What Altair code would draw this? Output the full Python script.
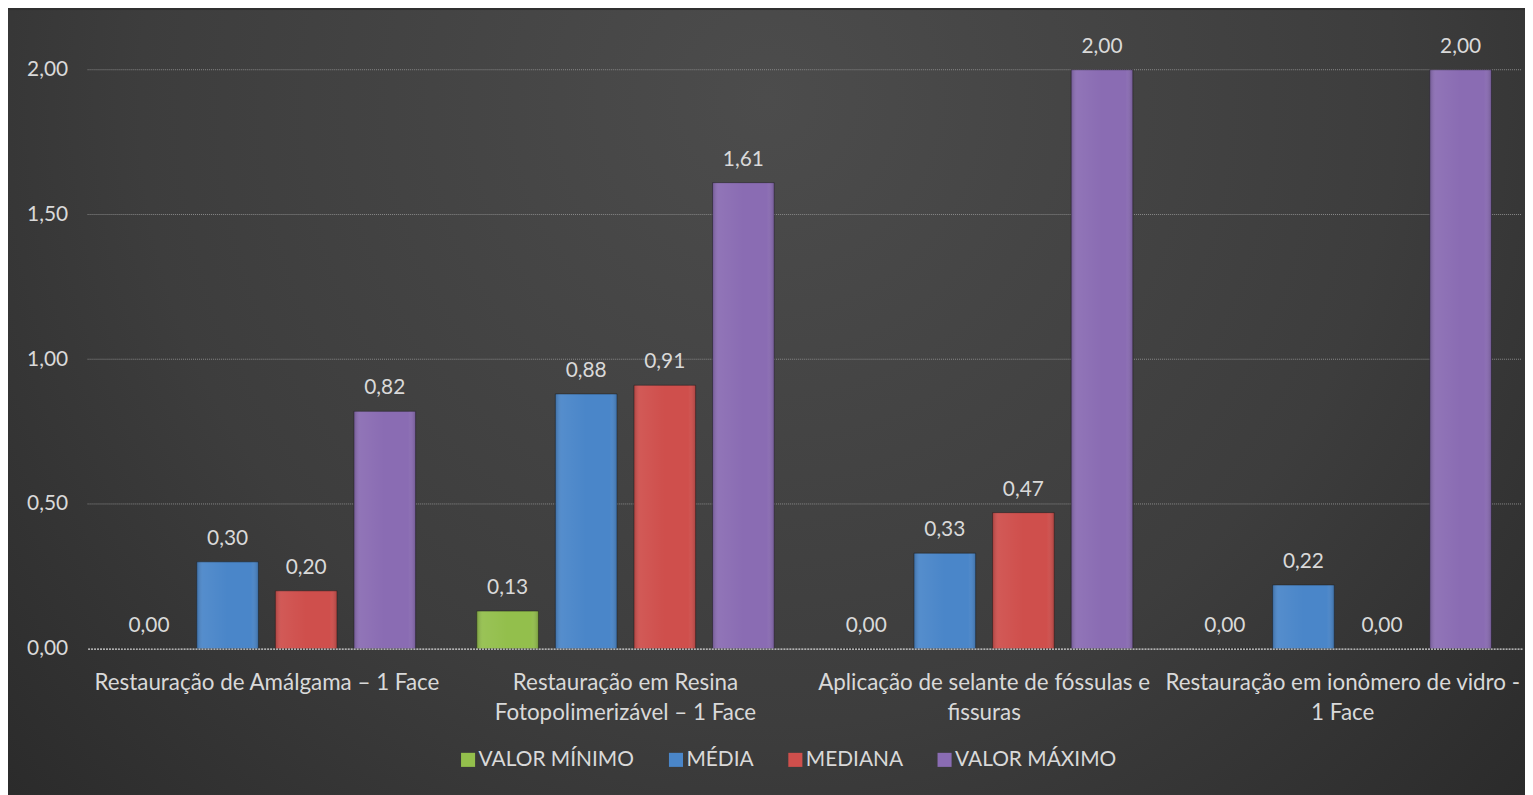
import altair as alt
import pandas as pd

categories = [
    "Restauração de Amálgama – 1 Face",
    "Restauração em Resina|Fotopolimerizável – 1 Face",
    "Aplicação de selante de fóssulas e|fissuras",
    "Restauração em ionômero de vidro -|1 Face",
]
series = ["VALOR MÍNIMO", "MÉDIA", "MEDIANA", "VALOR MÁXIMO"]
valor_minimo = [0.00, 0.13, 0.00, 0.00]
media = [0.30, 0.88, 0.33, 0.22]
mediana = [0.20, 0.91, 0.47, 0.00]
valor_maximo = [0.82, 1.61, 2.00, 2.00]
y_ticks = [0.0, 0.5, 1.0, 1.5, 2.0]
colors = ["#93bf4c", "#4a86c9", "#cf4f4c", "#8a6cb3"]

rows = []
for s, vals in zip(series, [valor_minimo, media, mediana, valor_maximo]):
    for c, v in zip(categories, vals):
        rows.append({"categoria": c, "serie": s, "valor": v})
df = pd.DataFrame(rows)
grid_df = pd.DataFrame({"v": y_ticks[1:]})

FONT = "Lato"
TXT = "#d9d9d9"
FS = 21
W, H = 1442, 582

bg = alt.Chart(pd.DataFrame({"a": [0]})).mark_rect(
    fill=alt.RadialGradient(
        gradient="radial",
        x1=0.5, y1=0.3, x2=0.5, y2=0.3, r1=0.0, r2=0.75,
        stops=[
            alt.GradientStop(color="#4c4c4c", offset=0),
            alt.GradientStop(color="#3d3d3d", offset=0.55),
            alt.GradientStop(color="#262626", offset=1),
        ],
    )
).encode(
    x=alt.value(-80), x2=alt.value(W + 5), y=alt.value(-60), y2=alt.value(H + 147)
)

y_scale = alt.Scale(domain=[0, 2], nice=False)

grid = alt.Chart(grid_df).mark_rule(
    color="#8a8a8a", strokeWidth=1, strokeDash=[1, 1]
).encode(
    y=alt.Y("v:Q", scale=y_scale),
    x=alt.value(0),
    x2=alt.value(W),
)

x_enc = alt.X(
    "categoria:N",
    sort=categories,
    title=None,
    scale=alt.Scale(paddingInner=0, paddingOuter=0),
    axis=alt.Axis(
        labelExpr="split(datum.label, '|')",
        labelAngle=0,
        labelFont=FONT,
        labelFontSize=22.5,
        labelColor=TXT,
        labelPadding=23,
        labelLineHeight=30,
        labelLimit=400,
        ticks=False,
        domainColor="#d9d9d9",
        domainDash=[2, 1],
        domainWidth=1.2,
        grid=False,
        zindex=2,
    ),
)
xoff = alt.XOffset(
    "serie:N", sort=series, scale=alt.Scale(paddingInner=0.215, paddingOuter=0.389)
)
y_enc = alt.Y(
    "valor:Q",
    title=None,
    scale=y_scale,
    axis=alt.Axis(
        values=y_ticks,
        labelExpr="replace(format(datum.value, '.2f'), '.', ',')",
        labelFont=FONT,
        labelFontSize=FS,
        labelColor=TXT,
        labelPadding=20,
        ticks=False,
        domain=False,
        grid=False,
        zindex=2,
    ),
)

bars = alt.Chart(df).mark_bar(stroke="#1a1a1a", strokeWidth=0.8, strokeOpacity=0.6).encode(
    x=x_enc,
    xOffset=xoff,
    y=y_enc,
    color=alt.Color(
        "serie:N",
        sort=series,
        scale=alt.Scale(domain=series, range=colors),
        legend=alt.Legend(
            title=None,
            orient="none",
            legendX=372,
            legendY=683,
            direction="horizontal",
            symbolType="square",
            symbolSize=200,
            symbolStrokeWidth=0,
            labelFont=FONT,
            labelFontSize=FS,
            labelColor=TXT,
            labelOffset=0,
            labelLimit=400,
            columnPadding=31,
            padding=0,
        ),
    ),
)

shade = alt.Chart(df).mark_bar(
    fill=alt.LinearGradient(
        gradient="linear", x1=0, y1=0, x2=1, y2=0,
        stops=[
            alt.GradientStop(color="rgba(0,0,0,0.18)", offset=0),
            alt.GradientStop(color="rgba(255,255,255,0.06)", offset=0.1),
            alt.GradientStop(color="rgba(255,255,255,0.0)", offset=0.5),
            alt.GradientStop(color="rgba(255,255,255,0.0)", offset=0.88),
            alt.GradientStop(color="rgba(0,0,0,0.18)", offset=1),
        ],
    )
).encode(
    x=alt.X("categoria:N", sort=categories),
    xOffset=alt.XOffset("serie:N", sort=series),
    y="valor:Q",
)

labels = alt.Chart(df).transform_calculate(
    rot="replace(format(datum.valor, '.2f'), '.', ',')"
).mark_text(
    font=FONT, fontSize=FS, color=TXT, baseline="bottom", dy=-13
).encode(
    x=alt.X("categoria:N", sort=categories),
    xOffset=alt.XOffset("serie:N", sort=series),
    y="valor:Q",
    text="rot:N",
)

chart = alt.layer(bg, grid, bars, shade, labels).properties(
    width=W,
    height=H,
    padding={"left": 80, "top": 60, "right": 3, "bottom": 145},
    autosize=alt.AutoSizeParams(type="none"),
    background="#303030",
).configure_view(stroke=None)

chart.save("out.html", embed_options={"renderer": "svg", "actions": False})
